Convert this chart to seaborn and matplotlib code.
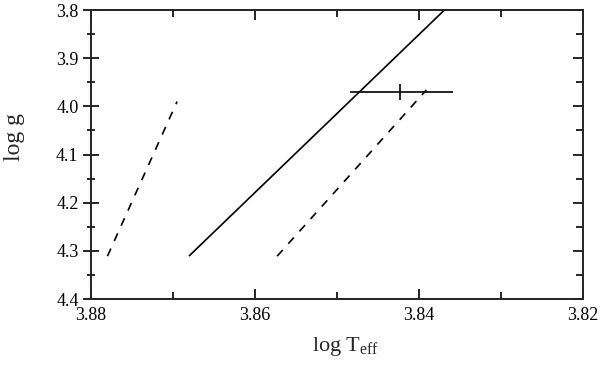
import numpy as np
import pandas as pd
import seaborn as sns
import matplotlib
matplotlib.use('Agg')
import matplotlib.pyplot as plt
from matplotlib.ticker import MultipleLocator

# evolutionary track (solid) and the two boundary tracks (dashed)
track_teff = [3.868, 3.8369]
track_logg = [4.31, 3.80]
left_teff = [3.878, 3.8695]
left_logg = [4.311, 3.990]
right_teff = [3.8573, 3.8391]
right_logg = [4.311, 3.966]

# observed star with its error bar
star_teff = 3.8423
star_logg = 3.970
star_err_lo = 0.0065
star_err_hi = 0.0061

sns.set_style('ticks')
plt.rcParams['font.family'] = ['Liberation Serif', 'DejaVu Serif']
plt.rcParams['mathtext.fontset'] = 'custom'
plt.rcParams['mathtext.rm'] = 'Liberation Serif'
plt.rcParams['mathtext.it'] = 'Liberation Serif:italic'

fig = plt.figure(figsize=(6, 3.65), dpi=100)
ax = fig.add_axes([0.1517, 0.1808, 0.82, 0.7918])

sns.lineplot(x=track_teff, y=track_logg, sort=False, color='black', lw=1.2, ax=ax)
sns.lineplot(x=left_teff, y=left_logg, sort=False, color='black', lw=1.2, ax=ax)
ax.lines[-1].set_dashes((5, 5))
sns.lineplot(x=right_teff, y=right_logg, sort=False, color='black', lw=1.2, ax=ax)
ax.lines[-1].set_dashes((5, 5))

ax.errorbar(star_teff, star_logg, xerr=[[star_err_lo], [star_err_hi]],
            fmt='|', color='black', ms=11, mew=1.2, elinewidth=1.2, capsize=0)

ax.set_xlim(3.88, 3.82)
ax.set_ylim(4.4, 3.8)
ax.xaxis.set_major_locator(MultipleLocator(0.02))
ax.xaxis.set_minor_locator(MultipleLocator(0.01))
ax.yaxis.set_major_locator(MultipleLocator(0.1))
ax.yaxis.set_minor_locator(MultipleLocator(0.05))
ax.xaxis.set_major_formatter(plt.FormatStrFormatter('%.2f'))
ax.yaxis.set_major_formatter(plt.FormatStrFormatter('%.1f'))

for s in ax.spines.values():
    s.set_linewidth(1.3)
ax.tick_params(which='both', top=True, right=False, color='black', width=1.2,
               labelsize=13, labelcolor='black')
ax.tick_params(axis='y', which='major', direction='inout', length=11)
ax.tick_params(axis='y', which='minor', direction='inout', length=6)
ax.tick_params(axis='x', which='major', direction='in', length=7, pad=6)
ax.tick_params(axis='x', which='minor', direction='in', length=5)

# right-hand ticks point inward only
ax_r = ax.twinx()
ax_r.set_ylim(ax.get_ylim())
ax_r.yaxis.set_major_locator(MultipleLocator(0.1))
ax_r.yaxis.set_minor_locator(MultipleLocator(0.05))
ax_r.tick_params(which='both', direction='in', color='black', width=1.2, labelright=False)
ax_r.tick_params(which='major', length=7)
ax_r.tick_params(which='minor', length=5)
for s in ax_r.spines.values():
    s.set_linewidth(1.3)

ax.set_xlabel(r'log T$_{\rm eff}$', fontsize=16, labelpad=10)
ax.xaxis.set_label_coords(0.518, -0.125)
ax.set_ylabel('log g', fontsize=17)
ax.yaxis.set_label_coords(-0.135, 0.56)

fig.savefig('out.png', dpi=100)
